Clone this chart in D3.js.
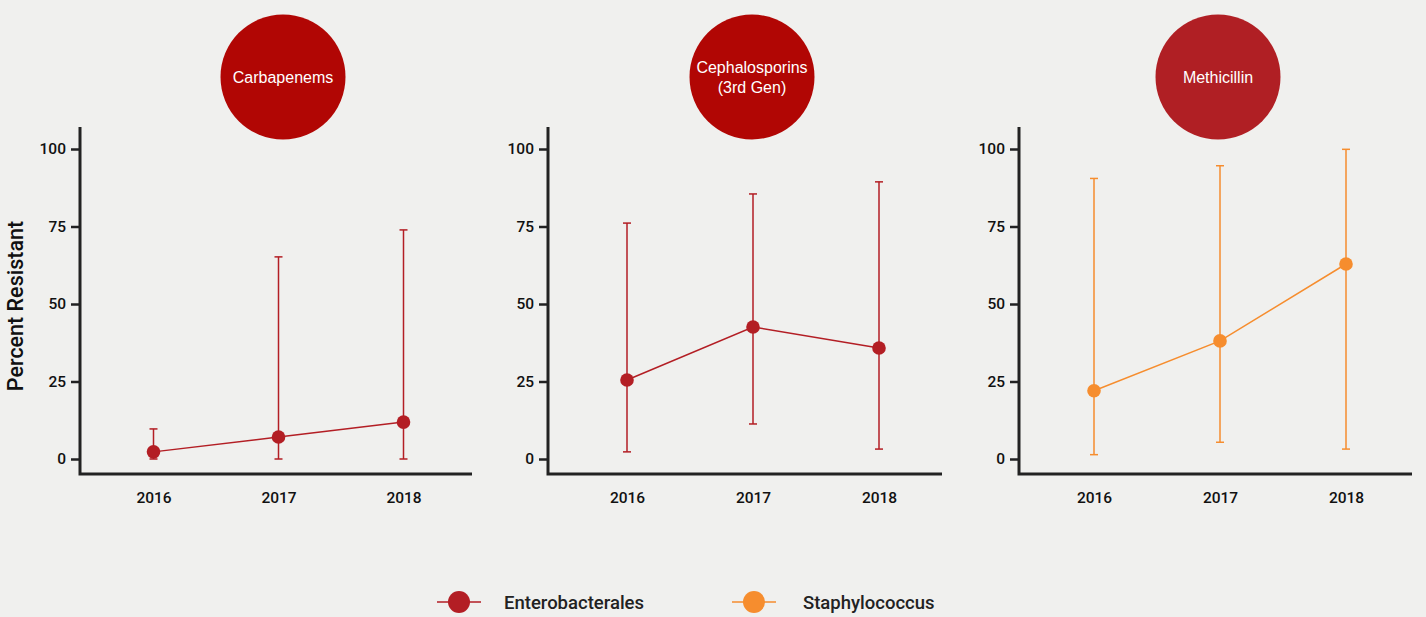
<!DOCTYPE html>
<html>
<head>
<meta charset="utf-8">
<script src="https://cdn.jsdelivr.net/npm/d3@7"></script>
<style>
  html, body { margin: 0; padding: 0; background: #f0f0ee; }
  svg { display: block; font-family: "Liberation Sans", Arial, sans-serif; }
  .lbl { font-family: Roboto, "Liberation Sans", Arial, sans-serif; font-weight: 500; }
</style>
</head>
<body>
<svg id="chart" width="1426" height="617"></svg>
<script>
// Antibiotic resistance by year, with uncertainty ranges
const years = ["2016", "2017", "2018"];
const yTicks = [0, 25, 50, 75, 100];

const drugs = ["Carbapenems", "Cephalosporins\n(3rd Gen)", "Methicillin"];
const drugOrganism = ["Enterobacterales", "Enterobacterales", "Staphylococcus"];
const drugBadgeColors = ["#b10604", "#b10604", "#b01f24"];

const carbapenemsValue = [2.3, 7.1, 11.9];
const carbapenemsLow   = [0, 0, 0];
const carbapenemsHigh  = [9.7, 65.2, 73.9];

const cephalosporinsValue = [25.5, 42.6, 35.8];
const cephalosporinsLow   = [2.3, 11.3, 3.2];
const cephalosporinsHigh  = [76.1, 85.5, 89.4];

const methicillinValue = [22.0, 38.1, 62.9];
const methicillinLow   = [1.4, 5.4, 3.2];
const methicillinHigh  = [90.5, 94.6, 99.9];

const organisms = ["Enterobacterales", "Staphylococcus"];
const organismColors = ["#b31e24", "#f68d2e"];

const panelValues = [carbapenemsValue, cephalosporinsValue, methicillinValue];
const panelLow = [carbapenemsLow, cephalosporinsLow, methicillinLow];
const panelHigh = [carbapenemsHigh, cephalosporinsHigh, methicillinHigh];

const color = d3.scaleOrdinal().domain(organisms).range(organismColors);

const svg = d3.select("#chart");

// panel frames: axis line extents, plotting band for the years, badge centre
const panels = [
  { left: 80, right: 472, bandL: 91, bandR: 466, badgeX: 283 },
  { left: 548, right: 942, bandL: 564, bandR: 942, badgeX: 752 },
  { left: 1019, right: 1412, bandL: 1031, bandR: 1409, badgeX: 1218 }
];
const axisTop = 127, axisBottom = 474;

const y = d3.scaleLinear().domain([0, 100]).range([459, 149]);

panels.forEach((p, i) => {
  const g = svg.append("g");
  const x = d3.scalePoint().domain(years).range([p.bandL, p.bandR]).padding(0.5);
  const c = color(drugOrganism[i]);

  // header badge
  g.append("circle")
    .attr("cx", p.badgeX).attr("cy", 77).attr("r", 62.5)
    .attr("fill", drugBadgeColors[i]);
  const lines = drugs[i].split("\n");
  const t = g.append("text")
    .attr("x", p.badgeX).attr("text-anchor", "middle")
    .attr("fill", "#ffffff").attr("font-size", 16);
  lines.forEach((ln, k) => {
    t.append("tspan").attr("x", p.badgeX)
      .attr("y", 77 + 6 + (k - (lines.length - 1) / 2) * 20.5)
      .text(ln);
  });

  // y axis
  const yAxis = g.append("g").attr("transform", `translate(${p.left},0)`)
    .call(d3.axisLeft(y).tickValues(yTicks).tickSize(9).tickPadding(5));
  yAxis.select(".domain").remove();
  yAxis.selectAll(".tick line").attr("stroke", "#222").attr("stroke-width", 2.5);
  yAxis.selectAll(".tick text").attr("class", "lbl").attr("fill", "#111")
    .attr("font-size", 15.5).attr("font-family", null);

  // x axis labels
  const xAxis = g.append("g").attr("transform", `translate(0,${axisBottom})`)
    .call(d3.axisBottom(x).tickSize(0).tickPadding(18));
  xAxis.select(".domain").remove();
  xAxis.selectAll(".tick text").attr("class", "lbl").attr("fill", "#111")
    .attr("font-size", 15.5).attr("font-family", null);

  // axis frame lines
  g.append("path")
    .attr("d", `M${p.left},${axisTop}V${axisBottom}H${p.right}`)
    .attr("fill", "none").attr("stroke", "#222").attr("stroke-width", 3);

  const rows = years.map((yr, k) => ({
    year: yr, v: panelValues[i][k], lo: panelLow[i][k], hi: panelHigh[i][k]
  }));

  // error bars
  const eb = g.append("g").attr("stroke", c).attr("stroke-width", 1.5);
  rows.forEach(r => {
    const cx = x(r.year);
    eb.append("line").attr("x1", cx).attr("x2", cx).attr("y1", y(r.lo)).attr("y2", y(r.hi));
    eb.append("line").attr("x1", cx - 4).attr("x2", cx + 4).attr("y1", y(r.lo)).attr("y2", y(r.lo));
    eb.append("line").attr("x1", cx - 4).attr("x2", cx + 4).attr("y1", y(r.hi)).attr("y2", y(r.hi));
  });

  // trend line
  g.append("path").datum(rows)
    .attr("d", d3.line().x(r => x(r.year)).y(r => y(r.v)))
    .attr("fill", "none").attr("stroke", c).attr("stroke-width", 1.5);

  // points
  g.selectAll("circle.pt").data(rows).join("circle")
    .attr("class", "pt")
    .attr("cx", r => x(r.year)).attr("cy", r => y(r.v)).attr("r", 6.8)
    .attr("fill", c);
});

// y axis title
svg.append("text").attr("class", "lbl")
  .attr("transform", "translate(23,306) rotate(-90)")
  .attr("text-anchor", "middle").attr("font-size", 21.5).attr("fill", "#111")
  .text("Percent Resistant");

// legend
const legendX = [459, 754];
const legendTextX = [504, 803];
organisms.forEach((o, i) => {
  const lg = svg.append("g");
  lg.append("line").attr("x1", legendX[i] - 22).attr("x2", legendX[i] + 22)
    .attr("y1", 602).attr("y2", 602).attr("stroke", color(o)).attr("stroke-width", 1.5);
  lg.append("circle").attr("cx", legendX[i]).attr("cy", 602).attr("r", 11).attr("fill", color(o));
  lg.append("text").attr("class", "lbl").attr("x", legendTextX[i]).attr("y", 609)
    .attr("font-size", 18.5).attr("fill", "#222").text(o);
});
</script>
</body>
</html>
